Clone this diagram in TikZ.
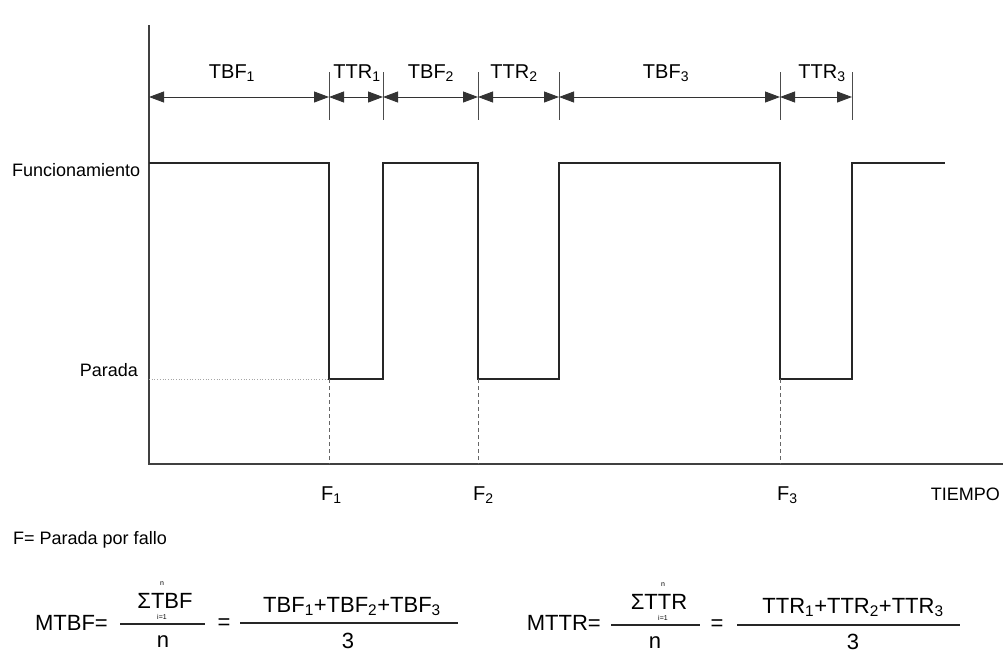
\documentclass[tikz,border=0pt]{standalone}
\usepackage{fontspec}
\setmainfont{Liberation Sans}
\usetikzlibrary{arrows.meta}
\begin{document}
\begin{tikzpicture}[x=1pt,y=-1pt,
  wave/.style={line width=1.8pt,black!85,line join=miter},
  axisline/.style={line width=1.3pt,black!75},
  dim/.style={line width=0.9pt,black!80,{Triangle[length=15pt,width=11pt]}-{Triangle[length=15pt,width=11pt]}},
  tick/.style={line width=0.8pt,black!70},
  guide/.style={line width=0.8pt,black!60,dashed,dash pattern=on 4pt off 3pt},
  pguide/.style={line width=0.7pt,black!35,dotted},
  lab/.style={inner sep=0pt,font=\fontsize{20}{24}\selectfont},
  side/.style={inner sep=0pt,font=\fontsize{18}{22}\selectfont},
  fml/.style={inner sep=0pt,font=\fontsize{22}{26}\selectfont},
  lim/.style={inner sep=0pt,font=\fontsize{7}{8}\selectfont},
  fracline/.style={line width=1.1pt,black!85}]
\useasboundingbox (0,0) rectangle (1003,667);

% axes
\coordinate (otop) at (149,25);
\coordinate (orig) at (149,464);
\coordinate (xend) at (1003,464);
\draw[axisline] (otop) -- (orig) -- (xend);

% waveform
\coordinate (w0) at (149,163);
\coordinate (a1) at (329,163); \coordinate (b1) at (329,379);
\coordinate (c1) at (383,379); \coordinate (d1) at (383,163);
\coordinate (a2) at (478,163); \coordinate (b2) at (478,379);
\coordinate (c2) at (559,379); \coordinate (d2) at (559,163);
\coordinate (a3) at (780,163); \coordinate (b3) at (780,379);
\coordinate (c3) at (852,379); \coordinate (d3) at (852,163);
\coordinate (wend) at (945,163);
\draw[wave] (w0) -- (a1) -- (b1) -- (c1) -- (d1) -- (a2) -- (b2) -- (c2) -- (d2) -- (a3) -- (b3) -- (c3) -- (d3) -- (wend);

% guides
\coordinate (p0) at (149,379);
\draw[pguide] (p0) -- (b1);
\coordinate (g1) at (329,464); \coordinate (g2) at (478,464); \coordinate (g3) at (780,464);
\draw[guide] (b1) -- (g1);
\draw[guide] (b2) -- (g2);
\draw[guide] (b3) -- (g3);

% ticks and dimension arrows
\foreach \n/\x in {1/329,2/383,3/478,4/559,5/780,6/852}{
  \coordinate (tt\n) at (\x,72);
  \coordinate (tb\n) at (\x,120);
  \draw[tick] (tt\n) -- (tb\n);
  \coordinate (t\n) at (\x,97);
}
\coordinate (t0) at (149,97);
\draw[dim] (t0) -- (t1);
\draw[dim] (t1) -- (t2);
\draw[dim] (t2) -- (t3);
\draw[dim] (t3) -- (t4);
\draw[dim] (t4) -- (t5);
\draw[dim] (t5) -- (t6);

\node[lab,anchor=base] (lTBF1) at (232,78) {TBF\textsubscript{1}};
\node[lab,anchor=base] (lTTR1) at (357,78) {TTR\textsubscript{1}};
\node[lab,anchor=base] (lTBF2) at (431,78) {TBF\textsubscript{2}};
\node[lab,anchor=base] (lTTR2) at (514,78) {TTR\textsubscript{2}};
\node[lab,anchor=base] (lTBF3) at (666,78) {TBF\textsubscript{3}};
\node[lab,anchor=base] (lTTR3) at (822,78) {TTR\textsubscript{3}};

% side labels
\node[side,anchor=base west] (func) at (12,176) {Funcionamiento};
\node[side,anchor=base east] (par) at (138,376) {Parada};
\node[lab,anchor=base west] (F1) at (321,500) {F\textsubscript{1}};
\node[lab,anchor=base west] (F2) at (473,500) {F\textsubscript{2}};
\node[lab,anchor=base west] (F3) at (777,500) {F\textsubscript{3}};
\node[side,anchor=base east] (tiempo) at (1000,500) {TIEMPO};
\node[side,anchor=base west] (leg) at (13,544) {F= Parada por fallo};

% MTBF formula
\node[fml,anchor=base east] (mtbf) at (108,630) {MTBF=};
\coordinate (f1l) at (120,624); \coordinate (f1r) at (205,624);
\draw[fracline] (f1l) -- (f1r);
\node[fml,anchor=base] (s1) at (165,608) {ΣTBF};
\node[lim] (s1n) at (162,584) {n};
\node[lim] (s1i) at (162,617) {i=1};
\node[fml,anchor=base] (n1) at (163,647) {n};
\node[fml] (eq1) at (224,624) {=};
\coordinate (f2l) at (240,623); \coordinate (f2r) at (458,623);
\draw[fracline] (f2l) -- (f2r);
\node[fml,anchor=base] (num1) at (352,612) {TBF\textsubscript{1}+TBF\textsubscript{2}+TBF\textsubscript{3}};
\node[fml,anchor=base] (d1n) at (348,648) {3};

% MTTR formula
\node[fml,anchor=base east] (mttr) at (601,630) {MTTR=};
\coordinate (f3l) at (611,625); \coordinate (f3r) at (700,625);
\draw[fracline] (f3l) -- (f3r);
\node[fml,anchor=base] (s2) at (659,609) {ΣTTR};
\node[lim] (s2n) at (663,585) {n};
\node[lim] (s2i) at (663,618) {i=1};
\node[fml,anchor=base] (n2) at (655,648) {n};
\node[fml] (eq2) at (717,625) {=};
\coordinate (f4l) at (737,625); \coordinate (f4r) at (960,625);
\draw[fracline] (f4l) -- (f4r);
\node[fml,anchor=base] (num2) at (853,613) {TTR\textsubscript{1}+TTR\textsubscript{2}+TTR\textsubscript{3}};
\node[fml,anchor=base] (d2n) at (853,649) {3};
\end{tikzpicture}
\end{document}
